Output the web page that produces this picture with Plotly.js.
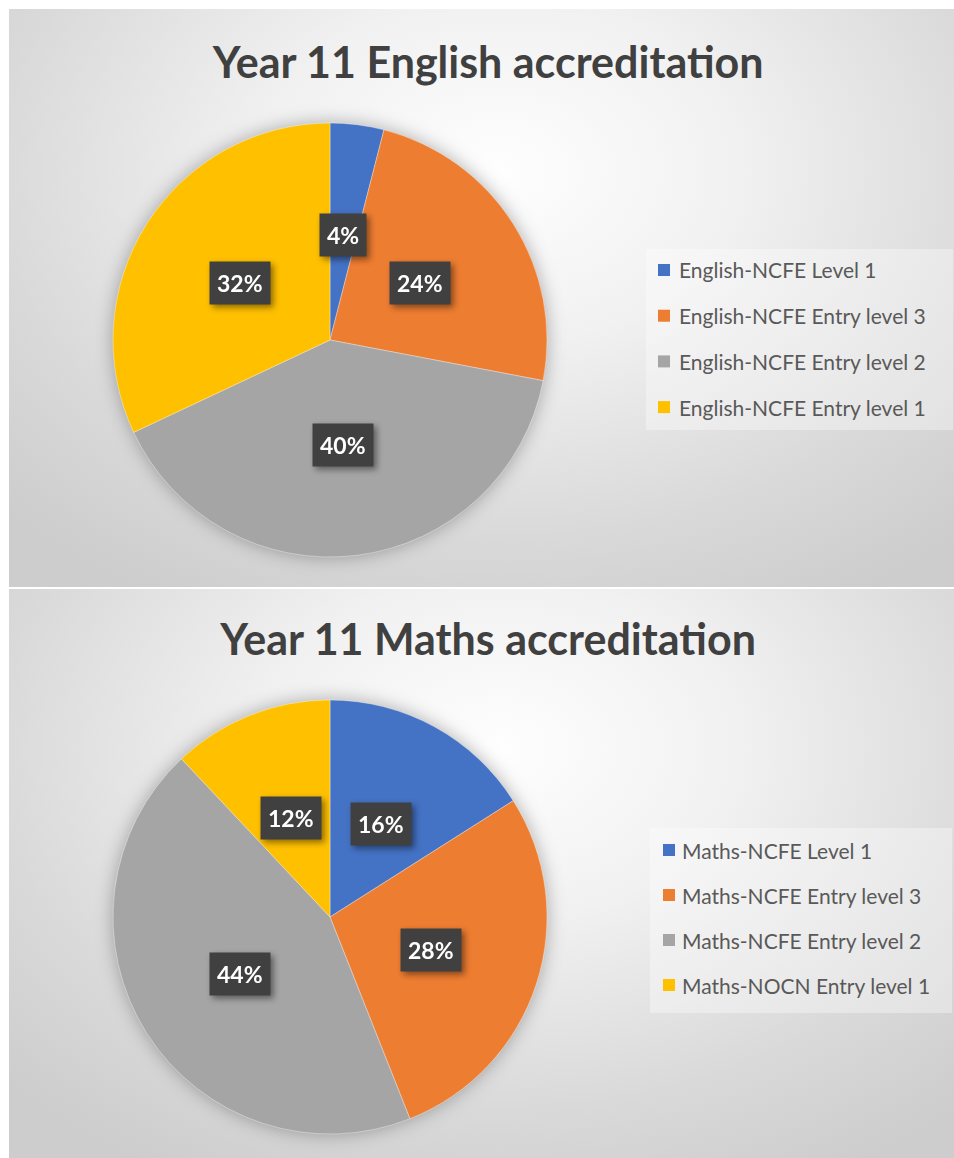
<!DOCTYPE html>
<html>
<head>
<meta charset="utf-8">
<script src="https://cdn.plot.ly/plotly-3.0.1.min.js"></script>
<style>
  body { margin: 0; background: #ffffff; width: 954px; height: 1158px; position: relative; overflow: hidden; }
  .panel {
    position: absolute; left: 9px; width: 945px;
    background: radial-gradient(ellipse 72% 85% at 52% 28%, #fefefe 0%, #f1f1f1 35%, #d9d9d9 75%, #cdcdcd 100%);
  }
  #p1 { top: 9px; height: 578px; }
  #p2 { top: 589px; height: 569px; }
  .pielayer .trace { filter: drop-shadow(0 0 9px rgba(0,0,0,0.3)); }
  g.annotation[data-index="0"], g.annotation[data-index="1"],
  g.annotation[data-index="2"], g.annotation[data-index="3"] {
    filter: drop-shadow(3px 3px 3px rgba(0,0,0,0.45));
  }
</style>
</head>
<body>
<div id="p1" class="panel"></div>
<div id="p2" class="panel"></div>
<script>
// data
const englishLabels = ['English-NCFE Level 1', 'English-NCFE Entry level 3', 'English-NCFE Entry level 2', 'English-NCFE Entry level 1'];
const englishValues = [4, 24, 40, 32];
const mathsLabels = ['Maths-NCFE Level 1', 'Maths-NCFE Entry level 3', 'Maths-NCFE Entry level 2', 'Maths-NOCN Entry level 1'];
const mathsValues = [16, 28, 44, 12];
const colors = ['#4472C4', '#ED7D31', '#A5A5A5', '#FFC000'];

const FONT = 'Lato, "Open Sans", sans-serif';

function drawPanel(id, title, labels, values, geo) {
  const W = 945, H = geo.h;
  // pie placement (pixels inside panel)
  const cx = geo.cx, cy = geo.cy, r = geo.r;
  const dom = {
    x: [(cx - r) / W, (cx + r) / W],
    y: [(H - cy - r) / H, (H - cy + r) / H]
  };

  const pie = {
    type: 'pie',
    labels: labels,
    values: values,
    sort: false,
    direction: 'clockwise',
    rotation: 0,
    textinfo: 'none',
    hoverinfo: 'none',
    showlegend: false,
    marker: { colors: colors, line: { color: 'rgba(255,255,255,0.45)', width: 0.8 } },
    domain: dom
  };

  const annotations = [];
  const shapes = [];

  // percentage labels, placed at half radius on each slice's middle angle
  const total = values.reduce((a, b) => a + b, 0);
  let cum = 0;
  values.forEach(v => {
    const mid = (cum + v / 2) / total * 2 * Math.PI;
    cum += v;
    const px = cx + 0.49 * r * Math.sin(mid);
    const py = cy - 0.49 * r * Math.cos(mid);
    annotations.push({
      xref: 'paper', yref: 'paper', x: px / W, y: 1 - py / H,
      xanchor: 'center', yanchor: 'middle', showarrow: false,
      text: Math.round(v / total * 100) + '%',
      font: { family: FONT, size: 23, color: '#ffffff', weight: 'bold' },
      bgcolor: '#404040', borderpad: 7
    });
  });

  // legend
  const lg = geo.legend;
  shapes.push({
    type: 'rect', xref: 'paper', yref: 'paper', layer: 'below',
    x0: lg.x0 / W, x1: lg.x1 / W, y0: 1 - lg.y1 / H, y1: 1 - lg.y0 / H,
    fillcolor: 'rgba(255,255,255,0.35)', line: { width: 0 }
  });
  labels.forEach((lab, i) => {
    const yy = 1 - (lg.first + i * lg.gap) / H;
    shapes.push({
      type: 'rect', xref: 'paper', yref: 'paper',
      xsizemode: 'pixel', ysizemode: 'pixel',
      xanchor: lg.sq / W, yanchor: yy,
      x0: -6, x1: 6, y0: -6, y1: 6,
      fillcolor: colors[i], line: { width: 0 }
    });
    annotations.push({
      xref: 'paper', yref: 'paper', x: lg.tx / W, y: yy,
      xanchor: 'left', yanchor: 'middle', showarrow: false,
      text: lab,
      font: { family: FONT, size: 21, color: '#595959' }
    });
  });

  const layout = {
    width: W, height: H,
    margin: { l: 0, r: 0, t: 0, b: 0 },
    paper_bgcolor: 'rgba(0,0,0,0)',
    plot_bgcolor: 'rgba(0,0,0,0)',
    title: {
      text: title,
      font: { family: FONT, size: 43, color: '#404040', weight: 'bold' },
      x: 0.507, xref: 'paper', xanchor: 'center',
      y: 1 - geo.titleY / H, yref: 'container', yanchor: 'middle'
    },
    annotations: annotations,
    shapes: shapes
  };

  Plotly.newPlot(id, [pie], layout, { displayModeBar: false, staticPlot: true });
}

drawPanel('p1', 'Year 11 English accreditation', englishLabels, englishValues, {
  h: 578, cx: 321, cy: 331, r: 217, titleY: 54,
  legend: { x0: 637, x1: 944, y0: 240, y1: 421, first: 261, gap: 45.7, sq: 655, tx: 668 }
});
drawPanel('p2', 'Year 11 Maths accreditation', mathsLabels, mathsValues, {
  h: 569, cx: 321, cy: 328, r: 217, titleY: 51,
  legend: { x0: 641, x1: 943, y0: 239, y1: 424, first: 261, gap: 45, sq: 660, tx: 671 }
});
</script>
</body>
</html>
